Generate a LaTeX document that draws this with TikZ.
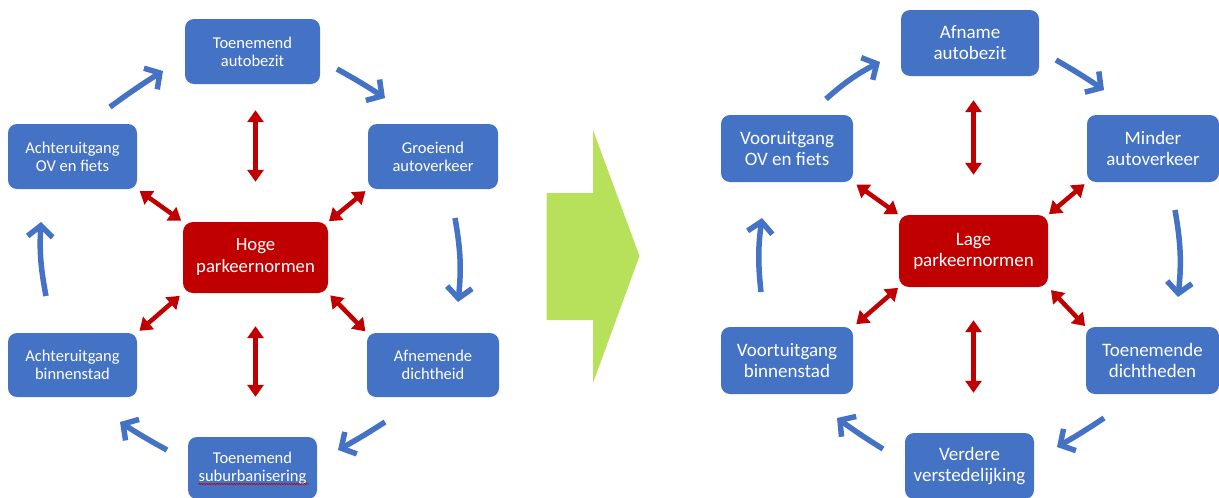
\documentclass[tikz,border=0pt]{standalone}
\usepackage{fontspec}
\setmainfont{Carlito}
\usetikzlibrary{arrows.meta,decorations.pathmorphing}
\definecolor{ofblue}{RGB}{68,114,196}
\definecolor{ofred}{RGB}{192,0,0}
\definecolor{ofgreen}{RGB}{183,225,90}
\begin{document}
\begin{tikzpicture}[x=1pt,y=1pt,
 box/.style={fill=ofblue, rounded corners=9pt, text=white, align=center, inner sep=0pt},
 lbox/.style={box, font=\fontsize{16.5}{18.3}\selectfont},
 rbox/.style={box, font=\fontsize{19}{21}\selectfont},
 redbox/.style={fill=ofred, rounded corners=10pt, text=white, align=center, inner sep=0pt, font=\fontsize{18.7}{22}\selectfont},
 redarr/.style={draw=ofred, line width=4.5pt, {Triangle[length=12pt,width=16pt]}-{Triangle[length=12pt,width=16pt]}},
 cyc/.style={draw=ofblue, line width=5.5pt, -{Straight Barb[length=11pt,width=25pt]}, bend left=#1},
 cyc/.default=5,
]
\useasboundingbox (0,0) rectangle (1219,-498);

% ---------- left diagram ----------
\node[lbox, minimum width=135pt, minimum height=65pt] (tA) at (252.5,-51.5) {Toenemend\\autobezit};
\node[lbox, minimum width=129pt, minimum height=65pt] (aOV) at (72.5,-156.5) {Achteruitgang\\OV en fiets};
\node[lbox, minimum width=130pt, minimum height=65pt] (gA) at (433,-156.5) {Groeiend\\autoverkeer};
\node[redbox, minimum width=145pt, minimum height=71pt] (hP) at (255.5,-257.5) {Hoge\\parkeernormen};
\node[lbox, minimum width=129pt, minimum height=64pt] (aB) at (72.5,-365) {Achteruitgang\\binnenstad};
\node[lbox, minimum width=132pt, minimum height=64pt] (aD) at (433,-365) {Afnemende\\dichtheid};
\node[lbox, minimum width=129pt, minimum height=62pt] (tS) at (252.5,-468) {Toenemend\\suburbanisering};
\draw[ofred, line width=0.6pt, decorate, decoration={snake, amplitude=0.6pt, segment length=2.5pt}]
  ([xshift=-54pt,yshift=-16pt]tS.center) -- ([xshift=56pt,yshift=-16pt]tS.center);

\draw[redarr, shorten <=26pt, shorten >=40pt] (tA.south -| hP.north) -- (hP.north);
\draw[redarr, shorten <=33pt, shorten >=40pt] (hP.south) -- (hP.south |- tS.north);
\draw[redarr, shorten <=3pt, shorten >=2pt] (aOV.south east) -- (hP.north west);
\draw[redarr, shorten <=3pt, shorten >=1pt] (gA.south west) -- (hP.north east);
\draw[redarr, shorten <=3pt, shorten >=4pt] (aB.north east) -- (hP.south west);
\draw[redarr, shorten <=3pt, shorten >=2pt] (hP.south east) -- (aD.north west);

\coordinate (l1a) at (110,-107); \coordinate (l1b) at (163,-71);
\coordinate (l2a) at (337,-69);  \coordinate (l2b) at (385,-98);
\coordinate (l3a) at (455,-218); \coordinate (l3b) at (458,-302);
\coordinate (l4a) at (385,-422); \coordinate (l4b) at (338,-450);
\coordinate (l5a) at (167,-450); \coordinate (l5b) at (120,-422);
\coordinate (l6a) at (46,-296);  \coordinate (l6b) at (41,-222);
\draw[cyc=2] (l1a) to (l1b);
\draw[cyc=2] (l2a) to (l2b);
\draw[cyc=8] (l3a) to (l3b);
\draw[cyc=2] (l4a) to (l4b);
\draw[cyc=2] (l5a) to (l5b);
\draw[cyc=7] (l6a) to (l6b);

% ---------- green arrow ----------
\fill[ofgreen] (546.7,-193) -- (593,-193) -- (593,-130) -- (639.5,-256) -- (593,-383) -- (593,-320) -- (546.7,-320) -- cycle;

% ---------- right diagram ----------
\node[rbox, minimum width=138pt, minimum height=66pt] (aA) at (970,-43) {Afname\\autobezit};
\node[rbox, minimum width=132pt, minimum height=67pt] (vOV) at (787,-148.5) {Vooruitgang\\OV en fiets};
\node[rbox, minimum width=132pt, minimum height=67pt] (mA) at (1153,-148.5) {Minder\\autoverkeer};
\node[redbox, minimum width=149pt, minimum height=72pt, font=\fontsize{19}{21}\selectfont] (lP) at (973.5,-251) {Lage\\parkeernormen};
\node[rbox, minimum width=132pt, minimum height=67pt] (vB) at (787,-360.5) {Voortuitgang\\binnenstad};
\node[rbox, minimum width=133pt, minimum height=67pt] (tD) at (1152.5,-360.5) {Toenemende\\dichtheden};
\node[rbox, minimum width=129pt, minimum height=66pt] (vV) at (969.5,-466) {Verdere\\verstedelijking};

\draw[redarr, shorten <=24pt, shorten >=40pt] (aA.south -| lP.north) -- (lP.north);
\draw[redarr, shorten <=33pt, shorten >=40pt] (lP.south) -- (lP.south |- vV.north);
\draw[redarr, shorten <=4pt, shorten >=1pt] (vOV.south east) -- (lP.north west);
\draw[redarr, shorten <=3pt, shorten >=1pt] (mA.south west) -- (lP.north east);
\draw[redarr, shorten <=4pt, shorten >=1pt] (vB.north east) -- (lP.south west);
\draw[redarr, shorten <=4pt, shorten >=1pt] (lP.south east) -- (tD.north west);

\coordinate (r1a) at (826,-99);   \coordinate (r1b) at (880,-62);
\coordinate (r2a) at (1056,-60);  \coordinate (r2b) at (1104,-90);
\coordinate (r3a) at (1175,-210); \coordinate (r3b) at (1178,-297);
\coordinate (r4a) at (1104,-418); \coordinate (r4b) at (1057,-447);
\coordinate (r5a) at (883,-449);  \coordinate (r5b) at (837,-418);
\coordinate (r6a) at (761,-292);  \coordinate (r6b) at (762,-218);
\draw[cyc=7] (r1a) to (r1b);
\draw[cyc=2] (r2a) to (r2b);
\draw[cyc=8] (r3a) to (r3b);
\draw[cyc=2] (r4a) to (r4b);
\draw[cyc=2] (r5a) to (r5b);
\draw[cyc=7] (r6a) to (r6b);
\end{tikzpicture}
\end{document}
